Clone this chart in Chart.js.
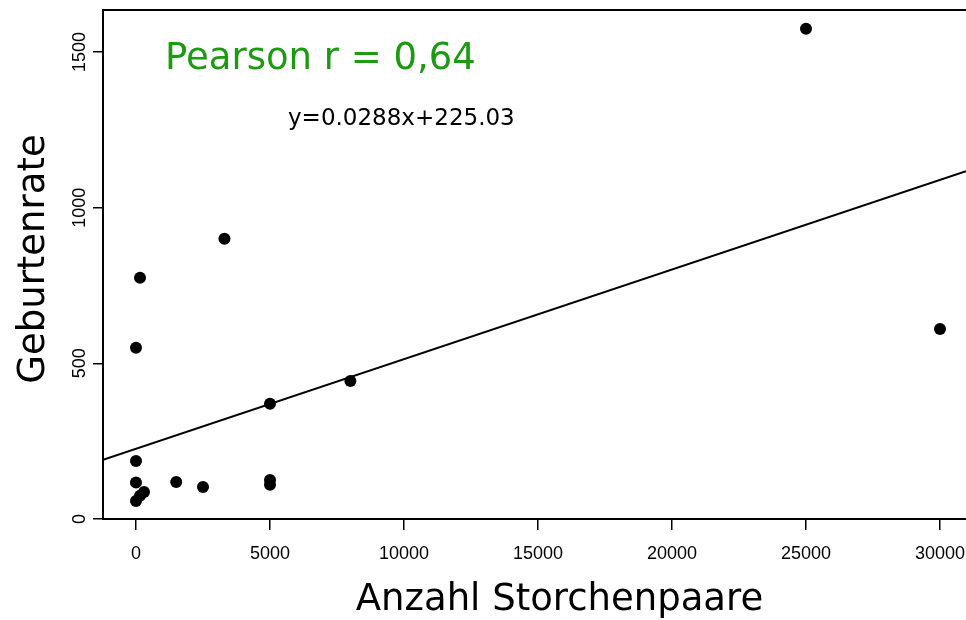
<!DOCTYPE html>
<html>
<head>
<meta charset="utf-8">
<script src="https://cdn.jsdelivr.net/npm/chart.js@4.4.1/dist/chart.umd.min.js"></script>
<style>
  html, body { margin: 0; padding: 0; background: #ffffff; }
  #wrap { width: 966px; height: 620px; position: relative; }
</style>
</head>
<body>
<div id="wrap"><canvas id="c" width="966" height="620"></canvas></div>
<script>
// ---- data ----
const storkPairs = [25000, 30000, 3300, 150, 0, 5000, 8000, 0, 0, 300, 0, 150, 1500, 2500, 5000, 5000];
const birthRate  = [1575, 610, 900, 775, 550, 370, 443, 186, 117, 87, 58, 75, 119, 103, 125, 110];
const fitLineX = [-1231, 30970];
const fitLineY = [190, 1117];
const xTickValues = [0, 5000, 10000, 15000, 20000, 25000, 30000];
const yTickValues = [0, 500, 1000, 1500];
const xTitle = 'Anzahl Storchenpaare';
const yTitle = 'Geburtenrate';
const pearsonText = 'Pearson r = 0,64';
const equationText = 'y=0.0288x+225.03';

const points = storkPairs.map((v, i) => ({ x: v, y: birthRate[i] }));
const linePts = fitLineX.map((v, i) => ({ x: v, y: fitLineY[i] }));

const overlay = {
  id: 'overlay',
  afterDraw(chart) {
    const ctx = chart.ctx;
    const a = chart.chartArea;
    const ys = chart.scales.y;
    ctx.save();
    // top frame line
    ctx.strokeStyle = '#000';
    ctx.lineWidth = 2;
    ctx.beginPath();
    ctx.moveTo(a.left - 1, a.top);
    ctx.lineTo(a.right + 2, a.top);
    ctx.stroke();

    // rotated y tick labels
    ctx.fillStyle = '#000';
    ctx.font = '18px "Liberation Sans", Arial, sans-serif';
    ctx.textAlign = 'center';
    ctx.textBaseline = 'alphabetic';
    yTickValues.forEach(v => {
      const py = ys.getPixelForValue(v);
      ctx.save();
      ctx.translate(85, py);
      ctx.rotate(-Math.PI / 2);
      ctx.fillText(String(v), 0, 0);
      ctx.restore();
    });

    // axis titles
    ctx.font = '37px "DejaVu Sans", sans-serif';
    ctx.textAlign = 'center';
    ctx.fillText(xTitle, 559.5, 610);
    ctx.save();
    ctx.translate(44, 259);
    ctx.rotate(-Math.PI / 2);
    ctx.fillText(yTitle, 0, 0);
    ctx.restore();

    // annotations
    ctx.textAlign = 'left';
    ctx.fillStyle = '#1c9a12';
    ctx.font = '37px "DejaVu Sans", sans-serif';
    ctx.fillText(pearsonText, 165, 69);
    ctx.fillStyle = '#000';
    ctx.font = '23px "DejaVu Sans", sans-serif';
    ctx.fillText(equationText, 288, 125);
    ctx.restore();
  }
};

new Chart(document.getElementById('c'), {
  data: {
    datasets: [
      {
        type: 'scatter',
        data: points,
        pointRadius: 6,
        pointHoverRadius: 6,
        pointBackgroundColor: '#000',
        pointBorderColor: '#000',
        pointBorderWidth: 0
      },
      {
        type: 'line',
        data: linePts,
        borderColor: '#000',
        borderWidth: 2,
        pointRadius: 0,
        fill: false
      }
    ]
  },
  options: {
    responsive: false,
    animation: false,
    events: [],
    layout: { autoPadding: false, padding: { left: 0, top: 10, right: 0, bottom: 0 } },
    plugins: { legend: { display: false }, tooltip: { enabled: false }, title: { display: false } },
    scales: {
      x: {
        type: 'linear',
        min: fitLineX[0],
        max: fitLineX[1],
        afterBuildTicks: s => { s.ticks = xTickValues.map(v => ({ value: v })); },
        afterFit: s => { s.height = 101; s.paddingLeft = 0; s.paddingRight = 0; },
        grid: { display: true, drawOnChartArea: false, drawTicks: true, tickLength: 11, color: '#000', lineWidth: 1.5 },
        border: { display: true, color: '#000', width: 2 },
        ticks: {
          color: '#000',
          padding: 13,
          maxRotation: 0,
          autoSkip: false,
          font: { family: '"Liberation Sans", Arial, sans-serif', size: 18 },
          callback: v => String(v)
        }
      },
      y: {
        type: 'linear',
        min: 0,
        max: 1635,
        afterBuildTicks: s => { s.ticks = yTickValues.map(v => ({ value: v })); },
        afterFit: s => { s.width = 103; s.paddingTop = 0; s.paddingBottom = 0; },
        grid: { display: true, drawOnChartArea: false, drawTicks: true, tickLength: 10, color: '#000', lineWidth: 1.5 },
        border: { display: true, color: '#000', width: 2 },
        ticks: { display: false }
      }
    }
  },
  plugins: [overlay]
});
</script>
</body>
</html>
